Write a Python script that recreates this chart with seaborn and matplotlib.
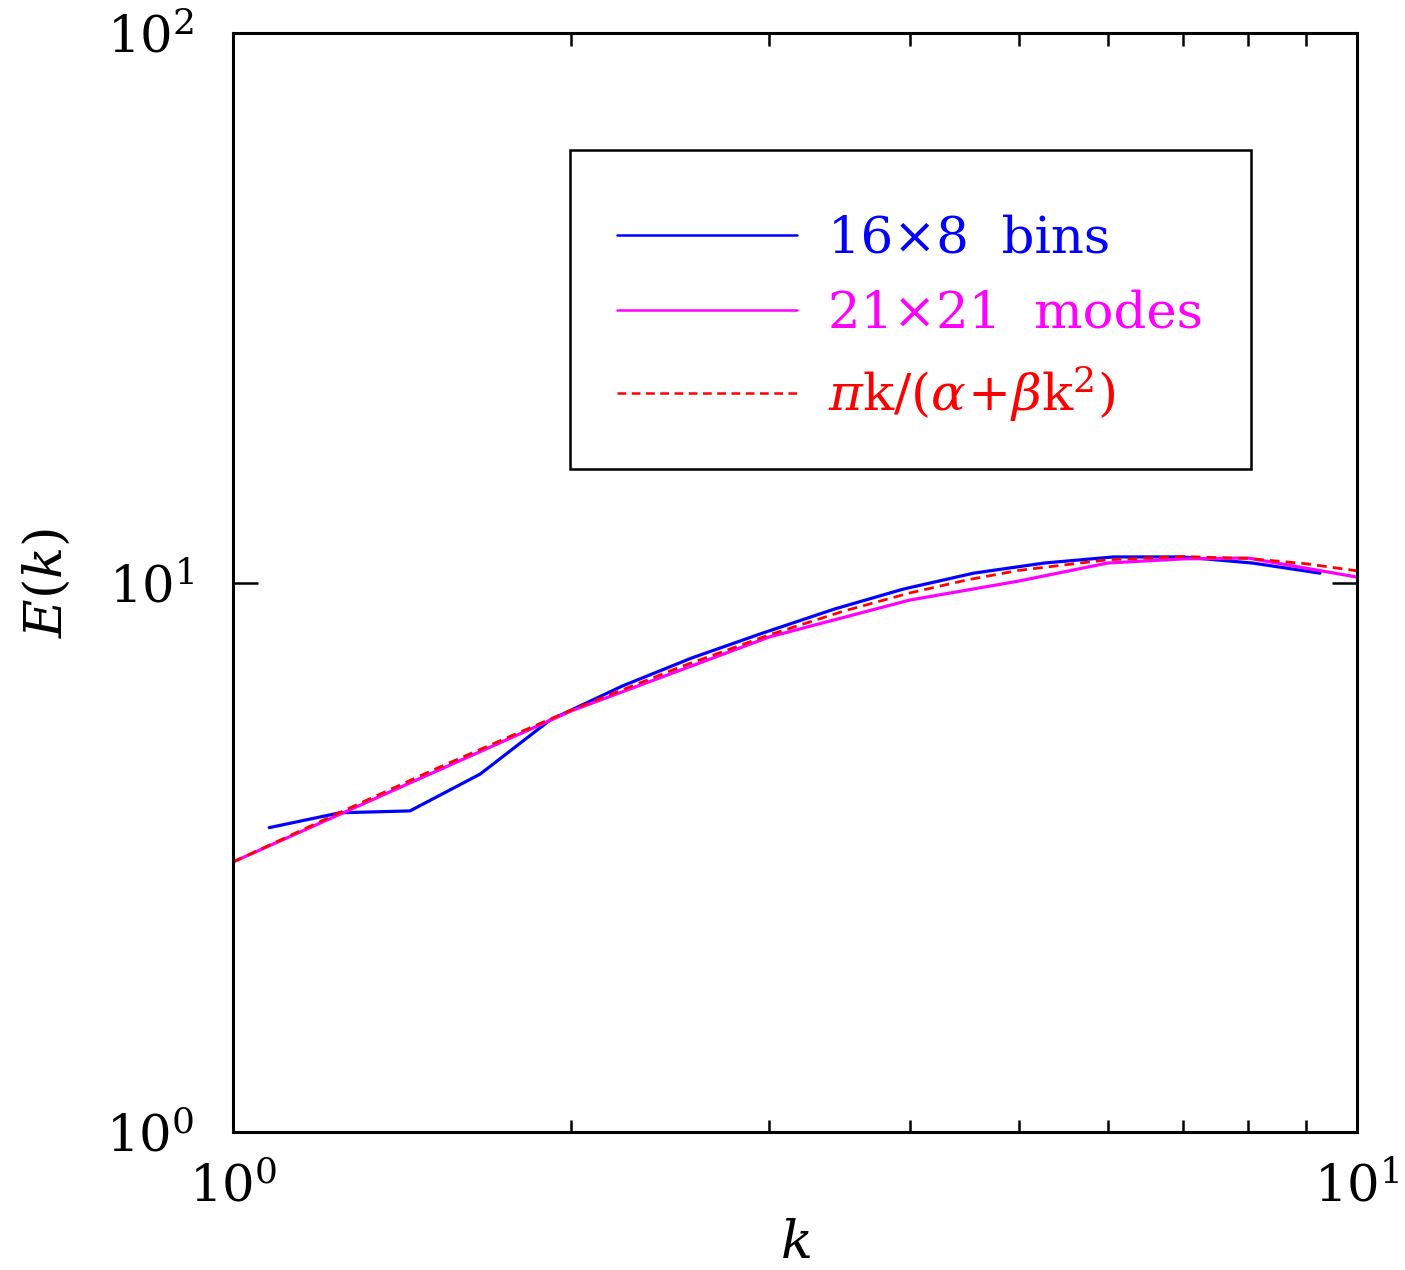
import numpy as np
import pandas as pd
import matplotlib
matplotlib.use("Agg")
import matplotlib.pyplot as plt
import seaborn as sns
from matplotlib.patches import Rectangle
from matplotlib.ticker import LogLocator, LogFormatterMathtext, NullLocator, NullFormatter

# values
k_bins = [1.077, 1.245, 1.437, 1.659, 1.915, 2.22, 2.56, 2.96,
          3.43, 3.95, 4.56, 5.27, 6.07, 7.0, 8.07, 9.27]
E_bins = [3.58, 3.81, 3.84, 4.48, 5.62, 6.48, 7.29, 8.09,
          8.95, 9.73, 10.4, 10.85, 11.13, 11.13, 10.85, 10.4]

k_modes = [1, 2, 3, 4, 5, 6, 7, 8, 9, 10]
E_modes = [3.10, 5.84, 7.96, 9.29, 10.06, 10.85, 11.04, 11.08, 10.62, 10.23]

k_fit = [1.0, 1.25, 1.5, 1.75, 2.0, 2.5, 3.0, 3.5, 4.0, 4.5, 5.0, 6.0, 7.0, 8.0, 9.0, 10.0]
E_fit = [3.10, 3.83, 4.54, 5.21, 5.86, 7.02, 8.03, 8.88, 9.57, 10.11, 10.52,
         11.00, 11.15, 11.06, 10.82, 10.50]

labels = ["16×8  bins", "21×21  modes", r"$\pi\mathrm{k}/(\alpha\!+\!\beta\mathrm{k}^2)$"]
colors = ["#0000ff", "#ff00ff", "#ff0000"]

sns.set_style("ticks")
plt.rcParams["font.family"] = ["DejaVu Serif"]
plt.rcParams["mathtext.fontset"] = "dejavuserif"
plt.rcParams["text.color"] = "black"
plt.rcParams["axes.labelcolor"] = "black"
plt.rcParams["xtick.color"] = "black"
plt.rcParams["ytick.color"] = "black"

fig = plt.figure(figsize=(14.05, 12.7), dpi=100)
ax = fig.add_axes([233 / 1405, 1 - 1132 / 1270, 1124 / 1405, 1099 / 1270])

df_bins = pd.DataFrame({"k": k_bins, "E": E_bins})
df_modes = pd.DataFrame({"k": k_modes, "E": E_modes})
df_fit = pd.DataFrame({"k": k_fit, "E": E_fit})

sns.lineplot(data=df_bins, x="k", y="E", ax=ax, color=colors[0], lw=2.3, label=labels[0])
sns.lineplot(data=df_modes, x="k", y="E", ax=ax, color=colors[1], lw=2.3, label=labels[1])
sns.lineplot(data=df_fit, x="k", y="E", ax=ax, color=colors[2], lw=2.0,
             dashes=(3.5, 2.2), label=labels[2])

ax.set_xscale("log")
ax.set_yscale("log")
ax.set_xlim(1, 10)
ax.set_ylim(1, 100)

ax.xaxis.set_major_locator(LogLocator(base=10))
ax.xaxis.set_minor_locator(LogLocator(base=10, subs=np.arange(2, 10)))
ax.xaxis.set_minor_formatter(NullFormatter())
ax.yaxis.set_major_locator(LogLocator(base=10))
ax.yaxis.set_minor_locator(NullLocator())
ax.xaxis.set_major_formatter(LogFormatterMathtext())
ax.yaxis.set_major_formatter(LogFormatterMathtext())

for s in ax.spines.values():
    s.set_linewidth(2.2)
    s.set_color("black")
ax.tick_params(which="both", direction="in", top=True, right=True, width=1.8,
               color="black", labelsize=37)
ax.tick_params(which="major", length=18)
ax.tick_params(which="minor", length=9)
ax.tick_params(axis="x", which="major", pad=22)
ax.tick_params(axis="y", which="major", pad=28)

ax.set_xlabel(r"$k$", fontsize=38, labelpad=4)
ax.set_ylabel(r"$E(k)$", fontsize=38, labelpad=24)

# legend box
ax.add_patch(Rectangle((0.2998, 0.603), 0.6059, 0.2905, transform=ax.transAxes,
                       fill=False, edgecolor="black", lw=1.8, zorder=5))
leg = ax.legend(loc="upper left", bbox_to_anchor=(0.3416, 0.835),
                fontsize=37, frameon=False, handlelength=3.5, handletextpad=0.6,
                borderpad=0, labelspacing=0.5, borderaxespad=0)
for line in leg.get_lines():
    line.set_linewidth(1.8)
for txt, c in zip(leg.get_texts(), colors):
    txt.set_color(c)

fig.savefig("out.png", dpi=100)
